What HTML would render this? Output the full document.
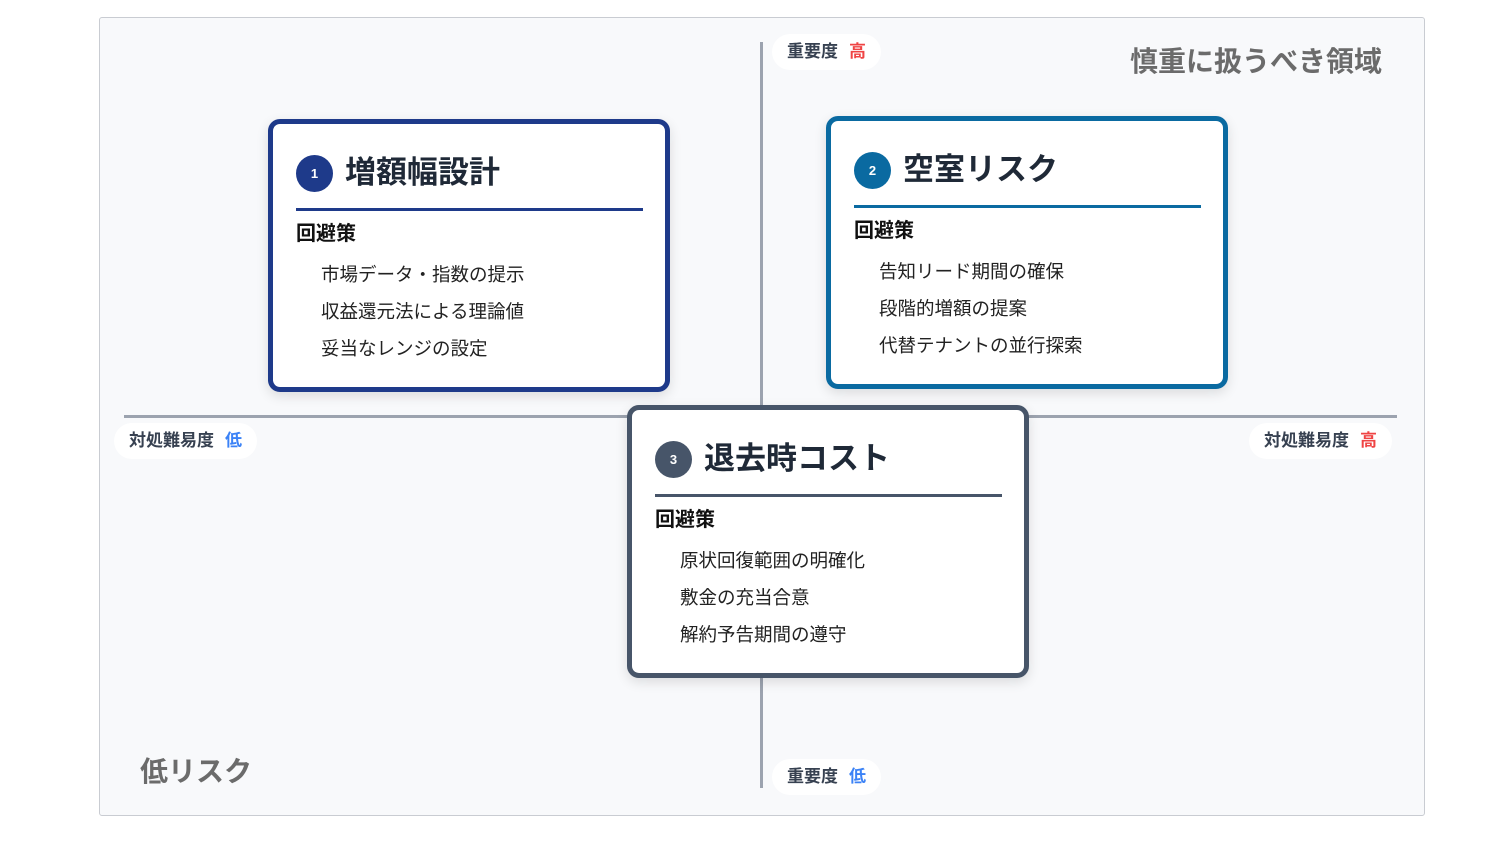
<!DOCTYPE html>
<html><head><meta charset="utf-8"><style>
*{margin:0;padding:0;box-sizing:border-box}
body{width:1500px;height:844px;background:#fff;position:relative;font-family:"Liberation Sans","Noto Sans CJK JP",sans-serif;overflow:hidden}
.frame{position:absolute;left:99px;top:17px;width:1326px;height:799px;background:#f8f9fb;border:1.5px solid #c9ccd2;border-radius:3px}
.vl{position:absolute;left:760px;top:42px;width:3px;height:746px;background:#9ca3af}
.hl{position:absolute;left:124px;top:415px;width:1273px;height:3px;background:#9ca3af}
.pill{position:absolute;background:#fff;border-radius:18px;height:36px;line-height:36px;padding:0 15px;font-size:17px;font-weight:bold;color:#374151}
.hi{color:#ef4444;margin-left:11px}.lo{color:#3b82f6;margin-left:11px}
.corner{position:absolute;font-size:28px;font-weight:bold;color:#6b6b6b}
.card{position:absolute;width:402px;height:273px;background:#fff;border:5px solid;border-radius:12px;box-shadow:0 4px 12px rgba(0,0,0,.12)}
.badge{position:absolute;left:23px;top:31px;width:37px;height:37px;border-radius:50%;color:#fff;font-size:13px;font-weight:bold;text-align:center;line-height:37px}
.title{position:absolute;left:72px;top:27px;font-size:31px;font-weight:bold;color:#1f2937;line-height:44px}
.div{position:absolute;left:23px;top:84px;width:347px;height:3px}
.sub{position:absolute;left:23px;top:96px;font-size:20px;font-weight:bold;color:#111;line-height:28px}
.items{position:absolute;left:48px;top:132px;font-size:18.5px;color:#222;line-height:37px}
</style></head><body>
<div class="frame"></div>
<div class="vl"></div><div class="hl"></div>
<div class="pill" style="left:772px;top:34px">重要度<span class="hi">高</span></div>
<div class="pill" style="left:772px;top:759px">重要度<span class="lo">低</span></div>
<div class="pill" style="left:114px;top:423px">対処難易度<span class="lo">低</span></div>
<div class="pill" style="left:1249px;top:423px">対処難易度<span class="hi">高</span></div>
<div class="corner" style="left:1130px;top:40px">慎重に扱うべき領域</div>
<div class="corner" style="left:140px;top:750px">低リスク</div>

<div class="card" style="left:268px;top:119px;border-color:#1e3a8a">
<div class="badge" style="background:#1e3a8a">1</div><div class="title">増額幅設計</div>
<div class="div" style="background:#1e3a8a"></div><div class="sub">回避策</div>
<div class="items">市場データ・指数の提示<br>収益還元法による理論値<br>妥当なレンジの設定</div></div>

<div class="card" style="left:826px;top:116px;border-color:#0a6aa1">
<div class="badge" style="background:#0a6aa1">2</div><div class="title">空室リスク</div>
<div class="div" style="background:#0a6aa1"></div><div class="sub">回避策</div>
<div class="items">告知リード期間の確保<br>段階的増額の提案<br>代替テナントの並行探索</div></div>

<div class="card" style="left:627px;top:405px;border-color:#475569">
<div class="badge" style="background:#475569">3</div><div class="title">退去時コスト</div>
<div class="div" style="background:#475569"></div><div class="sub">回避策</div>
<div class="items">原状回復範囲の明確化<br>敷金の充当合意<br>解約予告期間の遵守</div></div>
</body></html>
